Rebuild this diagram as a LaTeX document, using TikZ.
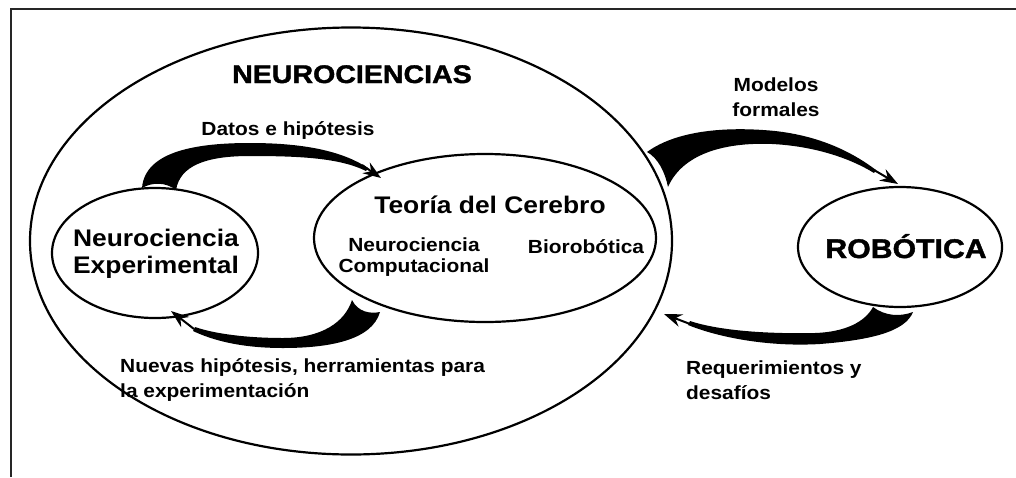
\documentclass[tikz,border=0pt]{standalone}
\usepackage{fontspec}
\setmainfont{Liberation Sans}
\newfontfamily\lbl{Liberation Sans}[FakeStretch=1.1]
\newfontfamily\hvy{Liberation Sans Bold}[FakeStretch=1.12,FakeBold=1.5]
\usetikzlibrary{shapes.geometric,arrows.meta}
\begin{document}
\begin{tikzpicture}[x=1pt,y=-1pt,
  ell/.style={draw, ellipse, line width=2.2, inner sep=0},
  bigtxt/.style={font=\lbl\bfseries\fontsize{24}{27}\selectfont, align=center, inner sep=0},
  smalltxt/.style={font=\lbl\bfseries\fontsize{19}{25}\selectfont, inner sep=0},
  heavytxt/.style={inner sep=0},
  body/.style={fill=black},
  head/.style={line width=2, -{Stealth[length=18pt,width=13pt,inset=6pt]}},
]
\useasboundingbox (0,0) rectangle (1016,477);
% frame
\draw[line width=2.6, black!85] (11,477) -- (11,9) -- (1016,9);

% ellipses
\node[ell, minimum width=642, minimum height=427] (neuro) at (351,241) {};
\node[ell, minimum width=206, minimum height=130] (exp) at (155,253) {};
\node[ell, minimum width=342, minimum height=168] (teo) at (485,238) {};
\node[ell, minimum width=204, minimum height=120] (rob) at (900,247) {};

% titles
\node[heavytxt, font=\hvy\fontsize{25.5}{28}\selectfont, anchor=base] (neurot) at (352,83) {NEUROCIENCIAS};
\node[heavytxt, font=\hvy\fontsize{27}{28}\selectfont, anchor=base] (robt) at (906,258) {ROBÓTICA};

% inner texts
\node[bigtxt] (expt) at (156,254) {Neurociencia\\Experimental};
\node[bigtxt, anchor=base] (teot) at (490,213) {Teoría del Cerebro};
\node[smalltxt, align=center, font=\lbl\bfseries\fontsize{19}{21}\selectfont] (comp) at (414,257) {Neurociencia\\Computacional};
\node[smalltxt, anchor=base] (bio) at (586,253) {Biorobótica};

% arrow labels
\node[smalltxt, anchor=base] (datos) at (288,135) {Datos e hipótesis};
\node[smalltxt, align=center] (model) at (776,97) {Modelos\\formales};
\node[smalltxt, align=left, anchor=west] (nuevas) at (120,380) {Nuevas hipótesis, herramientas para\\la experimentación};
\node[smalltxt, align=left, anchor=west] (req) at (686,380) {Requerimientos y\\desafíos};

% arrow 1: Datos e hipotesis
\coordinate (a1s) at (362,165);
\coordinate (a1e) at (381,178);
\fill[body] (142,188) .. controls (145,150) and (200,143) .. (250,143)
  .. controls (310,143) and (345,153) .. (368,168) -- (366,171)
  .. controls (340,158) and (300,156) .. (250,156)
  .. controls (205,156) and (180,166) .. (176,190)
  .. controls (166,182) and (152,182) .. (142,188) -- cycle;
\draw[head] (a1s) -- (a1e);

% arrow 2: Nuevas hipotesis
\coordinate (a2s) at (194,329);
\coordinate (a2e) at (171,311);
\fill[body] (380,312) .. controls (372,340) and (330,348) .. (283,348)
  .. controls (240,348) and (212,340) .. (193,331) -- (195,327)
  .. controls (215,334) and (248,338) .. (283,338)
  .. controls (322,338) and (345,322) .. (352,300)
  .. controls (358,312) and (370,314) .. (380,312) -- cycle;
\draw[head] (a2s) -- (a2e);

% arrow 3: Modelos formales
\coordinate (a3s) at (874,170);
\coordinate (a3e) at (898,184);
\fill[body] (647,152) .. controls (680,128) and (735,127) .. (775,131)
  .. controls (820,136) and (852,152) .. (876,170) -- (874,173)
  .. controls (848,157) and (812,146) .. (772,144)
  .. controls (722,142) and (682,155) .. (668,187)
  .. controls (665,172) and (658,158) .. (647,152) -- cycle;
\draw[head] (a3s) -- (a3e);

% arrow 4: Requerimientos y desafios
\coordinate (a4s) at (690,324);
\coordinate (a4e) at (664,314);
\fill[body] (913,312) .. controls (905,332) and (870,340) .. (820,344)
  .. controls (770,347) and (720,338) .. (688,325) -- (690,321)
  .. controls (720,331) and (770,334) .. (815,333)
  .. controls (845,332) and (865,322) .. (873,307)
  .. controls (885,316) and (900,317) .. (913,312) -- cycle;
\draw[head] (a4s) -- (a4e);
\end{tikzpicture}
\end{document}
